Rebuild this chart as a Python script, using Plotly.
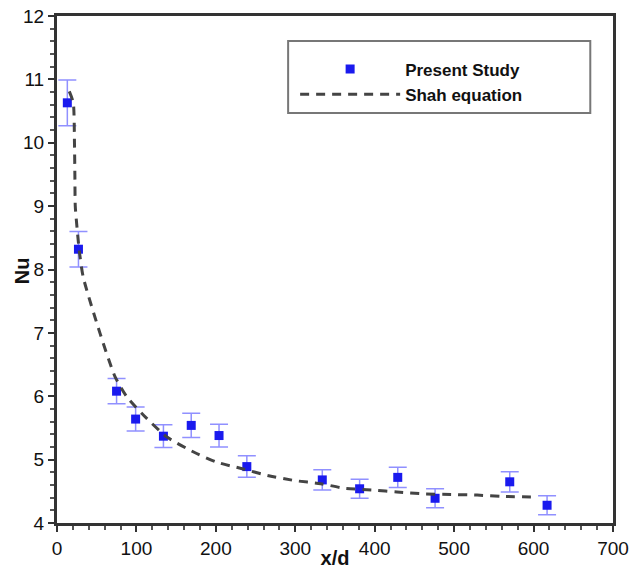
import plotly.graph_objects as go

# Present Study (experimental points)
xd_exp = [13, 27, 75, 99, 134, 169, 204, 239, 334, 381, 429, 476, 570, 617]
nu_exp = [10.63, 8.32, 6.08, 5.64, 5.37, 5.54, 5.38, 4.89, 4.68, 4.54, 4.72, 4.39, 4.65, 4.28]
nu_err = [0.36, 0.28, 0.20, 0.19, 0.18, 0.19, 0.18, 0.17, 0.16, 0.15, 0.16, 0.15, 0.16, 0.15]

# Shah equation curve
xd_shah = [15.5, 20.5, 22, 22.5, 23, 25.5, 28, 33, 54, 73, 88, 109, 138, 172, 201,
           232, 265, 299, 332, 361, 399, 428, 462, 496, 529, 559, 600]
nu_shah = [10.81, 10.63, 10.0, 9.5, 9.0, 8.62, 8.3, 7.88, 7.0, 6.31, 5.99, 5.70, 5.36,
           5.12, 4.96, 4.86, 4.75, 4.67, 4.62, 4.55, 4.52, 4.49, 4.46, 4.45, 4.44, 4.42, 4.41]

x_ticks = [0, 100, 200, 300, 400, 500, 600, 700]
y_ticks = [4, 5, 6, 7, 8, 9, 10, 11, 12]

FONT = "Liberation Sans, Arial"

fig = go.Figure()
fig.add_trace(go.Scatter(
    x=xd_exp, y=nu_exp, mode="markers", name="<b>Present Study</b>",
    marker=dict(symbol="square", size=9, color="#1a1aee"),
    error_y=dict(type="data", array=nu_err, visible=True, color="#9090ff", thickness=1.5, width=9),
))
fig.add_trace(go.Scatter(
    x=xd_shah, y=nu_shah, mode="lines", name="<b>Shah equation</b>",
    line=dict(color="#444444", width=3, dash="9px,7px", shape="spline", smoothing=0.6),
))

axis_common = dict(
    showline=True, linecolor="#333333", linewidth=3, mirror=True,
    ticks="outside", ticklen=6, tickwidth=2, tickcolor="#333333",
    showgrid=False, zeroline=False, automargin=False,
    tickfont=dict(family=FONT, size=19, color="#111111"),
)

L, R, T, B = 57, 612.7, 16, 522.7
PW, PH = R - L, B - T

fig.update_layout(
    width=630, height=569,
    margin=dict(l=L, r=630 - R, t=T, b=569 - B),
    plot_bgcolor="white", paper_bgcolor="white",
    xaxis=dict(range=[0, 700], tickvals=x_ticks,
               minor=dict(dtick=20, ticks="outside", ticklen=4, tickcolor="#555555", tickwidth=1.5),
               title=dict(text="<b>x/d</b>", font=dict(family=FONT, size=20, color="#111111"), standoff=2),
               **axis_common),
    yaxis=dict(range=[4, 12], tickvals=y_ticks,
               minor=dict(dtick=0.2, ticks="outside", ticklen=4, tickcolor="#555555", tickwidth=1.5),
               **axis_common),
    annotations=[dict(text="<b>Nu</b>", textangle=-90, xref="paper", yref="paper",
                      x=(22 - L) / PW, y=(B - 270) / PH, xanchor="center", yanchor="middle",
                      showarrow=False, font=dict(family=FONT, size=20, color="#111111"))],
    showlegend=True,
    legend=dict(x=(295 - L) / PW, y=0.93, xanchor="left", yanchor="top",
                bgcolor="rgba(0,0,0,0)", borderwidth=0, itemwidth=100,
                font=dict(family=FONT, size=17, color="#111111"),
                tracegroupgap=0),
    shapes=[dict(type="rect", xref="paper", yref="paper",
                 x0=(288 - L) / PW, x1=(590 - L) / PW,
                 y0=(B - 113) / PH, y1=(B - 41) / PH,
                 line=dict(color="#777777", width=2))],
)

fig.write_html("out.html")
